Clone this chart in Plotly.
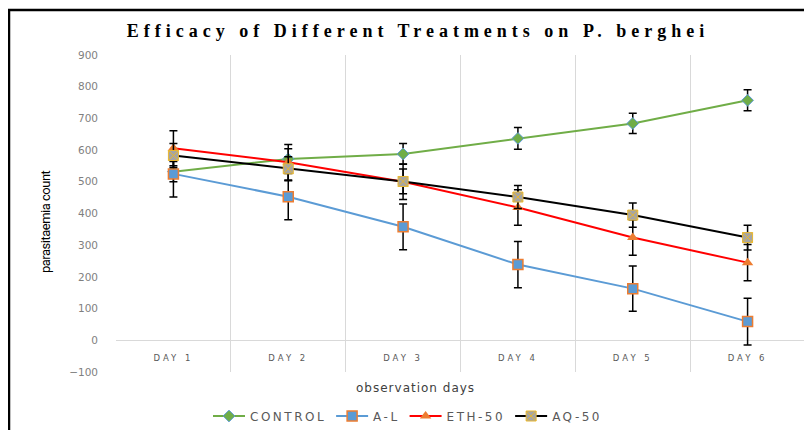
import plotly.graph_objects as go

days = ["DAY 1", "DAY 2", "DAY 3", "DAY 4", "DAY 5", "DAY 6"]

control = [532, 572, 588, 637, 684, 757]
control_err = [32, 32, 33, 34, 32, 33]

al = [525, 453, 358, 239, 163, 59]
al_err = [73, 73, 72, 73, 71, 74]

eth50 = [606, 562, 500, 419, 324, 245]
eth50_err = [55, 56, 56, 56, 56, 57]

aq50 = [583, 541, 501, 452, 395, 324]
aq50_err = [38, 38, 39, 36, 38, 39]

tick_labels = ['<span style="letter-spacing:3px">%s</span>' % d for d in days]

# page body has an 8px margin: targets are shifted by OFF
OFF = 8
L, R, T, B = 116 - OFF, 805 - OFF, 55 - OFF, 372 - OFF
W, H = 812, 430
PW, PH = R - L, B - T


def px(x):
    return (x - OFF - L) / PW


def py(y):
    return (B - (y - OFF)) / PH


fig = go.Figure()

series = [
    ("CONTROL", control, control_err, "#70AD47", dict(symbol="diamond", size=9, color="#70AD47", line=dict(color="#5B9BD5", width=1))),
    ("A-L", al, al_err, "#5B9BD5", dict(symbol="square", size=10, color="#5B9BD5", line=dict(color="#ED7D31", width=1.5))),
    ("ETH-50", eth50, eth50_err, "#FF0000", dict(symbol="triangle-up", size=10, color="#ED7D31", line=dict(color="#ED7D31", width=0))),
    ("AQ-50", aq50, aq50_err, "#000000", dict(symbol="square-x", size=10, color="#A5A5A5", line=dict(color="#E8B730", width=1))),
]

for name, vals, errs, col, mk in series:
    fig.add_trace(go.Scatter(
        x=days, y=vals, name='<span style="letter-spacing:2.5px">%s</span>' % name, mode="lines+markers",
        line=dict(color=col, width=2),
        marker=mk,
        error_y=dict(type="data", array=errs, visible=True, color="#000000", thickness=1.5, width=4),
    ))

fig.update_layout(
    width=W, height=H,
    margin=dict(l=L, r=W - R, t=T, b=H - B, autoexpand=False),
    paper_bgcolor="white", plot_bgcolor="white",
    title=dict(
        text='<span style="letter-spacing:5px">Efficacy of Different Treatments on P. berghei</span>',
        x=(418 - OFF) / W, xanchor="center", y=1 - (31 - OFF) / H, yanchor="middle",
        font=dict(family="Liberation Serif", size=18, color="#000000", weight="bold"),
        automargin=False,
    ),
    showlegend=True,
    legend=dict(
        orientation="h", xref="container", yref="container",
        x=(408 - OFF) / W, xanchor="center", y=1 - (416 - OFF) / H, yanchor="middle",
        font=dict(family="DejaVu Sans", size=12, color="#595959"),
        itemwidth=32, tracegroupgap=0,
    ),
    xaxis=dict(
        type="category", tickson="boundaries", range=[-0.5, 5.5],
        ticktext=tick_labels, tickvals=days,
        anchor="free", position=0.1, automargin=False,
        showgrid=True, gridcolor="#D9D9D9", gridwidth=1,
        showline=False, ticks="", zeroline=False,
        tickfont=dict(family="DejaVu Sans", size=8.5, color="#595959"),
        ticklabelstandoff=11,
    ),
    yaxis=dict(
        range=[-100, 900], dtick=100, automargin=False,
        showgrid=False, zeroline=True, zerolinecolor="#D9D9D9", zerolinewidth=1,
        showline=False, ticks="",
        tickfont=dict(family="DejaVu Sans", size=10.5, color="#7F7F7F"),
        ticklabelstandoff=17,
    ),
    shapes=[
        dict(type="rect", xref="paper", yref="paper", x0=px(9), x1=1.3,
             y0=-0.5, y1=py(10), line=dict(color="black", width=2.5), fillcolor="rgba(0,0,0,0)", layer="above"),
        dict(type="line", xref="paper", yref="paper", x0=1, x1=1, y0=0, y1=1, line=dict(color="#D9D9D9", width=1)),
    ],
    annotations=[
        dict(text='<span style="letter-spacing:-0.5px">parasitaemia count</span>', xref="paper", yref="paper",
             x=px(45), y=py(222),
             textangle=-90, showarrow=False, xanchor="center", yanchor="middle",
             font=dict(family="Roboto", size=13, color="#000000")),
        dict(text='<span style="letter-spacing:1px">observation days</span>', xref="paper", yref="paper",
             x=px(415), y=py(388), showarrow=False, xanchor="center", yanchor="middle",
             font=dict(family="DejaVu Sans", size=12, color="#404040")),
    ],
)

fig.write_html("out.html")
